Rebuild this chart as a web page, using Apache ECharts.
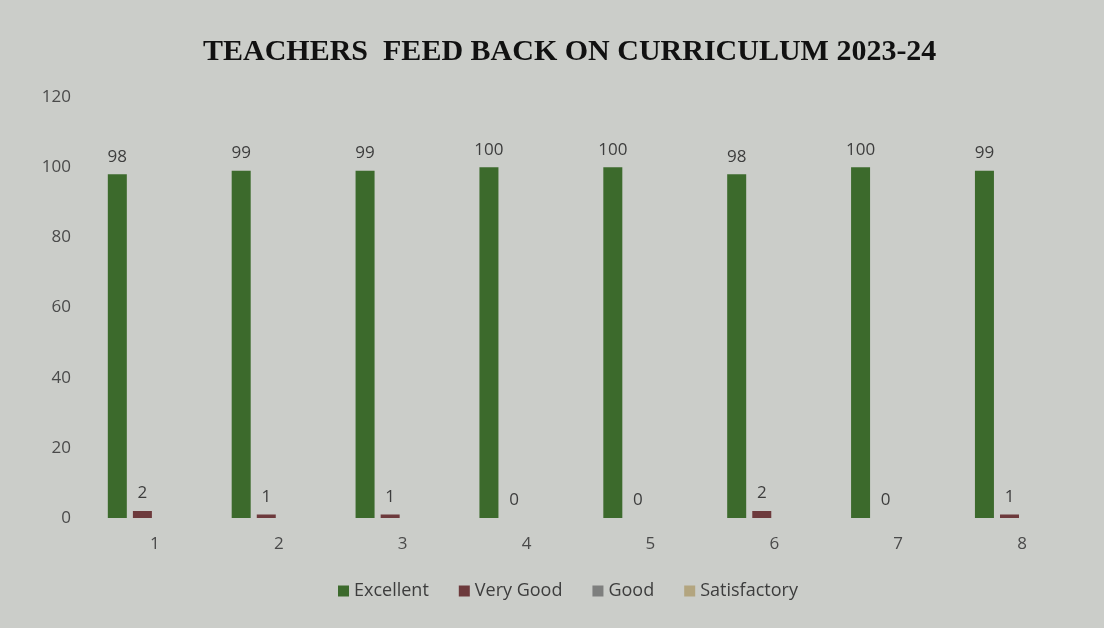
<!DOCTYPE html>
<html>
<head>
<meta charset="utf-8">
<script src="https://cdn.jsdelivr.net/npm/echarts@6/dist/echarts.min.js"></script>
<style>
  html, body { margin: 0; padding: 0; background: #cbcdc9; }
  #chart { width: 1104px; height: 628px; }
</style>
</head>
<body>
<div id="chart"></div>
<script>
const categories = ["1", "2", "3", "4", "5", "6", "7", "8"];
const excellent = [98, 99, 99, 100, 100, 98, 100, 99];
const veryGood = [2, 1, 1, 0, 0, 2, 0, 1];
const good = [null, null, null, null, null, null, null, null];
const satisfactory = [null, null, null, null, null, null, null, null];

const myChart = echarts.init(document.getElementById("chart"));

const labelStyle = {
  show: true,
  position: "top",
  color: "#3d3d3d",
  fontSize: 17,
  fontFamily: "Open Sans",
  distance: 9,
};

let option = {
  backgroundColor: "#cbcdc9",
  title: {
    text: "TEACHERS  FEED BACK ON CURRICULUM 2023-24",
    left: 198,
    top: 32,
    textStyle: {
      fontFamily: "Liberation Serif",
      fontWeight: "bold",
      fontSize: 30,
      color: "#111",
    },
  },
  legend: {
    bottom: 23,
    left: 333,
    itemWidth: 11,
    itemHeight: 11,
    itemGap: 30,
    icon: "rect",
    textStyle: {
      fontFamily: "Open Sans",
      fontSize: 18,
      color: "#3d3d3d",
    },
    data: ["Excellent", "Very Good", "Good", "Satisfactory"],
  },
  grid: {
    left: 93,
    right: 20,
    top: 97,
    bottom: 110,
  },
  xAxis: {
    type: "category",
    data: categories,
    axisLine: { show: false },
    axisTick: { show: false },
    axisLabel: {
      color: "#4a4a4a",
      fontSize: 17,
      fontFamily: "Open Sans",
      margin: 18,
    },
  },
  yAxis: {
    type: "value",
    min: 0,
    max: 120,
    interval: 20,
    splitLine: { show: false },
    axisLine: { show: false },
    axisTick: { show: false },
    axisLabel: {
      color: "#4a4a4a",
      fontSize: 17,
      fontFamily: "Open Sans",
      margin: 22,
    },
  },
  series: [
    {
      name: "Excellent",
      type: "bar",
      data: excellent,
      barWidth: 19,
      barGap: "32%",
      barCategoryGap: "24%",
      itemStyle: { color: "#3c6a2c" },
      label: labelStyle,
    },
    {
      name: "Very Good",
      type: "bar",
      data: veryGood,
      barWidth: 19,
      itemStyle: { color: "#6d3a3c" },
      label: labelStyle,
    },
    {
      name: "Good",
      type: "bar",
      data: good,
      barWidth: 19,
      itemStyle: { color: "#7e7f7e" },
    },
    {
      name: "Satisfactory",
      type: "bar",
      data: satisfactory,
      barWidth: 19,
      itemStyle: { color: "#b3a57f" },
    },
  ],
};

option && myChart.setOption(option);
</script>
</body>
</html>
